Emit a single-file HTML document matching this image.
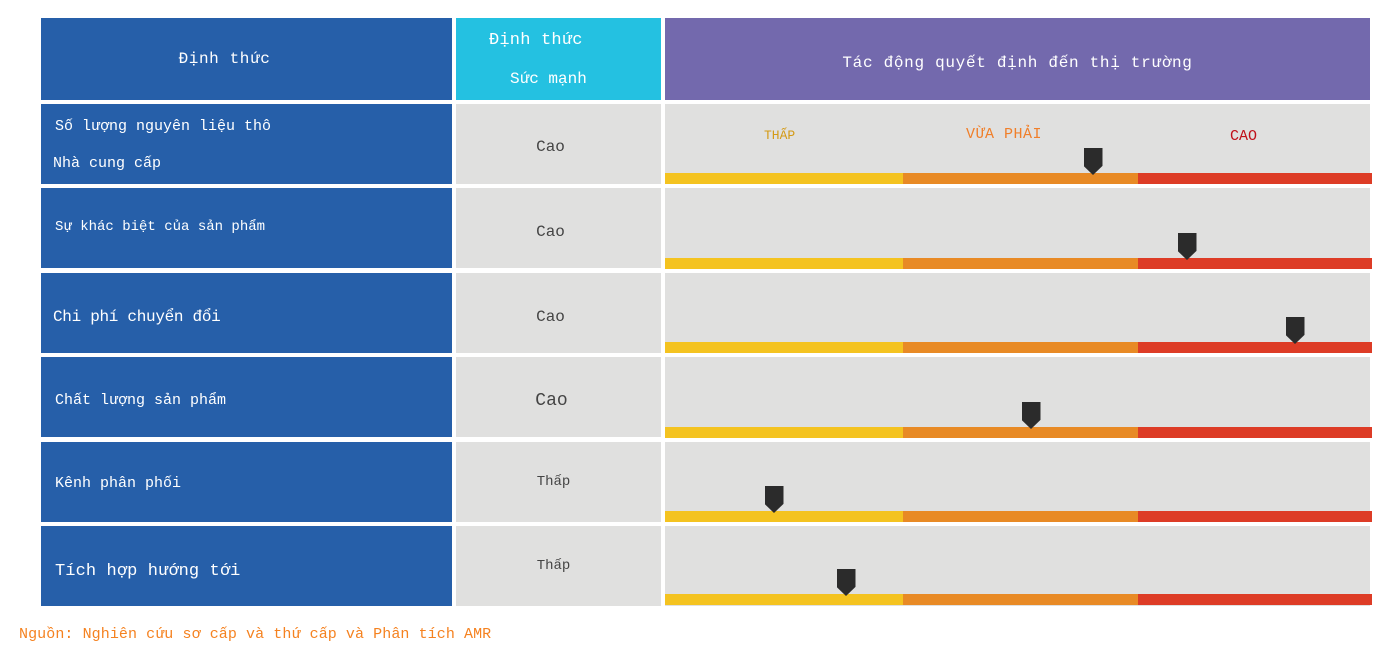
<!DOCTYPE html>
<html><head><meta charset="utf-8"><style>
body{margin:0;width:1398px;height:662px;background:#fff;position:relative;overflow:hidden;font-family:"Liberation Mono","DejaVu Sans Mono",monospace;}
.c{position:absolute;display:flex;align-items:center;box-sizing:border-box;}
.b{background:#265fa9;color:#fff;}
.g{background:#e0e0df;color:#444;justify-content:center;padding-right:16px;}
.t{position:absolute;white-space:nowrap;}
.bar{position:absolute;height:11px;}
.m{position:absolute;width:19px;height:27px;background:#2b2b2b;clip-path:polygon(0 0,100% 0,100% 66%,50% 100%,0 66%);}
</style></head><body>
<div class="c b" style="left:41px;top:18px;width:411px;height:82px;justify-content:center;padding-right:44px;font-size:16px;letter-spacing:0.6px;">Định thức</div>
<div class="c" style="left:456px;top:18px;width:205px;height:82px;background:#24c1e1;color:#fff;"></div>
<div class="t" style="left:489px;top:31px;color:#fff;font-size:17px;letter-spacing:0.2px;">Định thức</div>
<div class="t" style="left:510px;top:70px;color:#fff;font-size:16px;letter-spacing:0px;">Sức mạnh</div>
<div class="c" style="left:665px;top:18px;width:705px;height:82px;background:#7369ad;color:#fff;justify-content:center;padding-top:8px;font-size:16px;letter-spacing:0.7px;">Tác động quyết định đến thị trường</div>

<div class="c b" style="left:41px;top:104px;width:411px;height:80px;"></div>
<div class="t" style="left:55px;top:118px;color:#fff;font-size:15px;letter-spacing:0px;">Số lượng nguyên liệu thô</div>
<div class="t" style="left:53px;top:155px;color:#fff;font-size:15px;letter-spacing:0px;">Nhà cung cấp</div>
<div class="c g" style="left:456px;top:104px;width:205px;height:80px;font-size:16px;padding-top:6px;">Cao</div>
<div class="c g" style="left:665px;top:104px;width:705px;height:80px;padding:0;"></div>
<div class="t" style="left:764px;top:128px;color:#d49a14;font-size:13px;">THẤP</div>
<div class="t" style="left:966px;top:126px;color:#f07f2a;font-size:15px;letter-spacing:0.5px;">VỪA PHẢI</div>
<div class="t" style="left:1230px;top:128px;color:#c0101a;font-size:15px;">CAO</div>

<div class="c b" style="left:41px;top:188px;width:411px;height:80px;padding-left:14px;padding-bottom:2px;font-size:14px;letter-spacing:0px;">Sự khác biệt của sản phẩm</div>
<div class="c g" style="left:456px;top:188px;width:205px;height:80px;font-size:16px;padding-top:8px;">Cao</div>
<div class="c g" style="left:665px;top:188px;width:705px;height:80px;padding:0;"></div>

<div class="c b" style="left:41px;top:273px;width:411px;height:80px;padding-left:12px;padding-top:8px;font-size:16px;letter-spacing:-0.3px;">Chi phí chuyển đổi</div>
<div class="c g" style="left:456px;top:273px;width:205px;height:80px;font-size:16px;padding-top:8px;">Cao</div>
<div class="c g" style="left:665px;top:273px;width:705px;height:80px;padding:0;"></div>

<div class="c b" style="left:41px;top:357px;width:411px;height:80px;padding-left:14px;padding-top:6px;font-size:15px;letter-spacing:0px;">Chất lượng sản phẩm</div>
<div class="c g" style="left:456px;top:357px;width:205px;height:80px;font-size:18px;padding-top:8px;padding-right:14px;">Cao</div>
<div class="c g" style="left:665px;top:357px;width:705px;height:80px;padding:0;"></div>

<div class="c b" style="left:41px;top:442px;width:411px;height:80px;padding-left:14px;padding-top:2px;font-size:15px;letter-spacing:0px;">Kênh phân phối</div>
<div class="c g" style="left:456px;top:442px;width:205px;height:80px;font-size:14px;padding-right:10px;">Thấp</div>
<div class="c g" style="left:665px;top:442px;width:705px;height:80px;padding:0;"></div>

<div class="c b" style="left:41px;top:526px;width:411px;height:80px;padding-left:14px;padding-top:10px;font-size:17px;letter-spacing:0.1px;">Tích hợp hướng tới</div>
<div class="c g" style="left:456px;top:526px;width:205px;height:80px;font-size:14px;padding-right:10px;">Thấp</div>
<div class="c g" style="left:665px;top:526px;width:705px;height:80px;padding:0;"></div>

<div id="bars"></div>
<script>
var tops=[173,258,342,427,511,594],ms=[1093,1187,1295,1031,774,846],h='';
for(var i=0;i<6;i++){var y=tops[i];
h+='<div class="bar" style="left:665px;top:'+y+'px;width:238px;background:#f4c320"></div>';
h+='<div class="bar" style="left:903px;top:'+y+'px;width:235px;background:#e88a25"></div>';
h+='<div class="bar" style="left:1138px;top:'+y+'px;width:234px;background:#dd3c26"></div>';
h+='<div class="m" style="left:'+(ms[i]-9.5)+'px;top:'+(y-25)+'px"></div>';}
document.getElementById('bars').innerHTML=h;
</script>
<div class="t" style="left:19px;top:626px;color:#f58220;font-size:15px;letter-spacing:0.08px;">Nguồn: Nghiên cứu sơ cấp và thứ cấp và Phân tích AMR</div>
</body></html>
